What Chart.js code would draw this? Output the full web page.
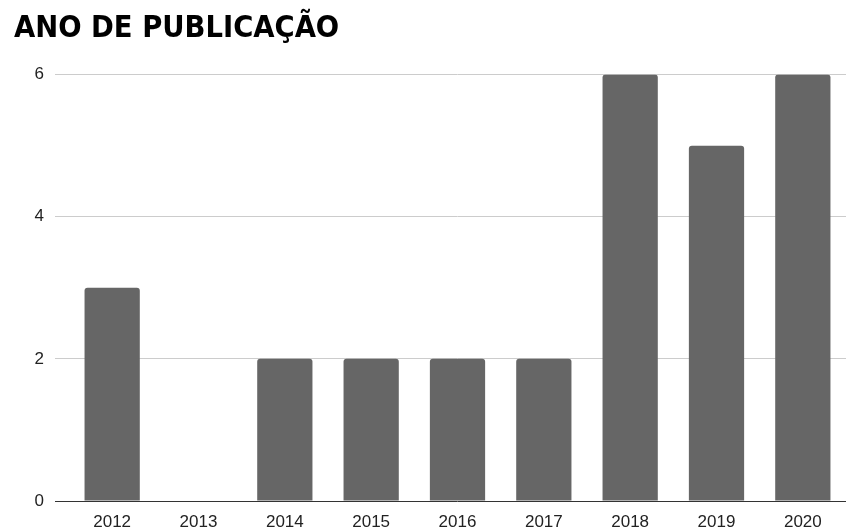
<!DOCTYPE html>
<html>
<head>
<meta charset="utf-8">
<script src="https://cdn.jsdelivr.net/npm/chart.js@4/dist/chart.umd.min.js"></script>
<style>
  body { margin: 0; background: #fff; }
  #wrap { width: 850px; height: 532px; position: relative; }
</style>
</head>
<body>
<div id="wrap"><canvas id="chart"></canvas></div>
<script>
var years = ['2012', '2013', '2014', '2015', '2016', '2017', '2018', '2019', '2020'];
var counts = [3, 0, 2, 2, 2, 2, 6, 5, 6];
var yTicks = [0, 2, 4, 6];

var ctx = document.getElementById('chart');
var myChart = new Chart(ctx, {
	type: 'bar',
	data: {
		labels: years,
		datasets: [{
			label: 'Ano de publicação',
			data: counts,
			backgroundColor: '#666666',
			borderRadius: 3,
			categoryPercentage: 1,
			barPercentage: 0.64
		}]
	},
	options: {
		responsive: true,
		maintainAspectRatio: false,
		animation: false,
		layout: { padding: { left: 14, right: 4, top: 0, bottom: 0 } },
		plugins: {
			legend: { display: false },
			tooltip: { enabled: false },
			title: {
				display: true,
				text: 'ANO DE PUBLICAÇÃO',
				align: 'start',
				color: '#000',
				font: { family: 'DejaVu Sans Condensed', weight: 'bold', size: 30.5 },
				padding: { top: 11, bottom: 27 }
			}
		},
		scales: {
			x: {
				afterFit: function (scale) { scale.height = 31; },
				grid: { display: false, drawTicks: false, tickLength: 0 },
				border: { display: false },
				ticks: {
					color: '#222',
					padding: 11,
					font: { family: 'Liberation Sans', size: 17 }
				}
			},
			y: {
				min: 0,
				max: 6,
				afterFit: function (scale) { scale.width = 55; },
				afterBuildTicks: function (scale) {
					scale.ticks = yTicks.map(function (v) { return { value: v }; });
				},
				border: { display: false },
				grid: {
					color: function (c) { return c.tick && c.tick.value === 0 ? '#333333' : '#cccccc'; },
					lineWidth: 1,
					drawTicks: true,
					tickLength: 14
				},
				ticks: {
					color: '#222',
					padding: 11,
					font: { family: 'Liberation Sans', size: 17 }
				}
			}
		}
	}
});
</script>
</body>
</html>
